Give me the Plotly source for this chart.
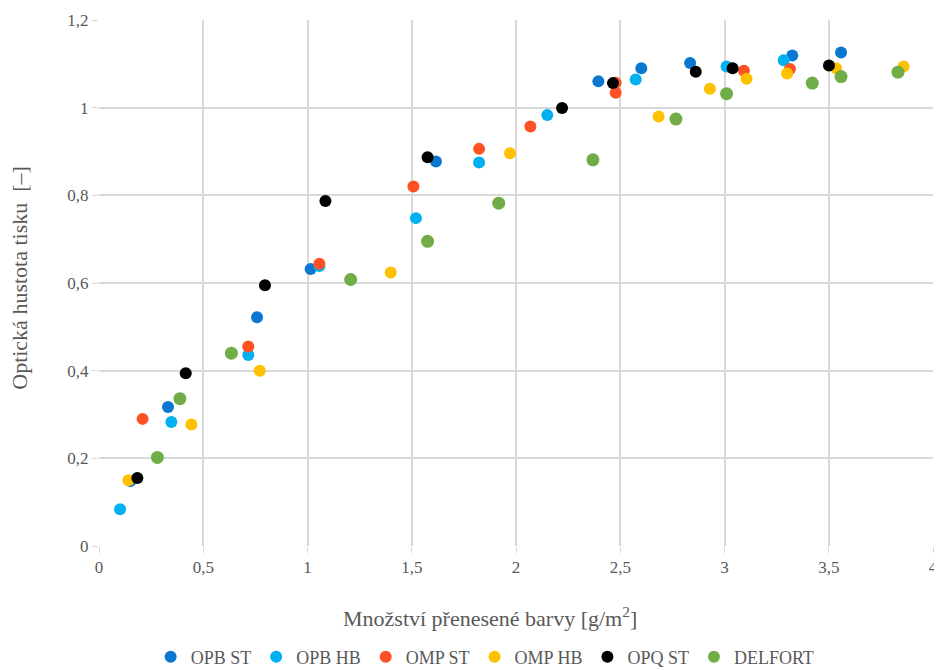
import plotly.graph_objects as go

names = ["OPB ST", "OPB HB", "OMP ST", "OMP HB", "OPQ ST", "DELFORT"]
colors = ["#0A78D2", "#00B0F0", "#FF5224", "#FFC000", "#000000", "#70AD47"]

opb_st_x = [0.15, 0.331, 0.758, 1.015, 1.616, 2.395, 2.601, 2.835, 3.325, 3.559]
opb_st_y = [0.148, 0.317, 0.522, 0.632, 0.877, 1.060, 1.090, 1.102, 1.119, 1.126]

opb_hb_x = [0.101, 0.347, 0.716, 1.057, 1.520, 1.823, 2.150, 2.574, 3.010, 3.284]
opb_hb_y = [0.084, 0.283, 0.436, 0.639, 0.748, 0.875, 0.983, 1.064, 1.094, 1.108]

omp_st_x = [0.209, 0.716, 1.057, 1.508, 1.823, 2.069, 2.478, 2.478, 3.093, 3.314]
omp_st_y = [0.290, 0.455, 0.644, 0.820, 0.906, 0.957, 1.034, 1.057, 1.084, 1.088]

omp_hb_x = [0.141, 0.443, 0.771, 1.399, 1.971, 2.684, 2.930, 3.106, 3.300, 3.535, 3.859]
omp_hb_y = [0.150, 0.277, 0.400, 0.624, 0.896, 0.980, 1.043, 1.066, 1.078, 1.090, 1.094]

opq_st_x = [0.184, 0.416, 0.796, 1.086, 1.576, 2.221, 2.465, 2.862, 3.039, 3.501]
opq_st_y = [0.155, 0.394, 0.595, 0.787, 0.887, 0.999, 1.056, 1.082, 1.090, 1.096]

delfort_x = [0.280, 0.388, 0.635, 1.207, 1.576, 1.917, 2.369, 2.767, 3.010, 3.421, 3.559, 3.832]
delfort_y = [0.202, 0.336, 0.440, 0.608, 0.695, 0.782, 0.881, 0.974, 1.032, 1.056, 1.071, 1.081]

x_title = "Množství přenesené barvy [g/m<sup>2</sup>]"
y_title = "Optická hustota tisku  [–]"

series = [
    (opb_st_x, opb_st_y),
    (opb_hb_x, opb_hb_y),
    (omp_st_x, omp_st_y),
    (omp_hb_x, omp_hb_y),
    (opq_st_x, opq_st_y),
    (delfort_x, delfort_y),
]
sizes = [12, 12, 12, 12, 12, 13]

font_family = "Times New Roman, Liberation Serif, serif"
txt = "#595959"

fig = go.Figure()
for name, color, (xs, ys), s in zip(names, colors, series, sizes):
    fig.add_trace(go.Scatter(
        x=xs, y=ys, mode="markers", name=name,
        marker=dict(color=color, size=s, line=dict(width=0)),
    ))

# page body has an 8 px default margin; the figure is sized/offset to compensate
fig.update_layout(
    width=934, height=662,
    margin=dict(l=91, r=9, t=12, b=124),
    plot_bgcolor="white", paper_bgcolor="white",
    separators=", ",
    font=dict(family=font_family, color=txt, size=17),
    showlegend=True,
    legend=dict(orientation="h", xref="paper", x=0.463, xanchor="center",
                yref="container", y=0.0196, yanchor="middle",
                font=dict(family=font_family, size=18, color=txt), itemsizing="constant",
                itemwidth=30, tracegroupgap=0),
    xaxis=dict(
        range=[0, 4], dtick=0.5, tick0=0, automargin=False,
        showgrid=True, gridcolor="#D9D9D9", gridwidth=1.5,
        zeroline=False, showline=False,
        ticks="outside", ticklen=6, tickcolor="#D9D9D9",
        tickfont=dict(family=font_family, size=17, color=txt),
    ),
    yaxis=dict(
        range=[0, 1.2], dtick=0.2, tick0=0, automargin=False,
        showgrid=True, gridcolor="#D9D9D9", gridwidth=1.5,
        zeroline=False, showline=False,
        ticks="outside", ticklen=6, tickcolor="#D9D9D9",
        tickfont=dict(family=font_family, size=17, color=txt),
    ),
    annotations=[
        dict(text=x_title, xref="paper", yref="paper", x=0.469, y=-0.135,
             xanchor="center", yanchor="middle", showarrow=False,
             font=dict(family=font_family, size=22, color=txt)),
        dict(text=y_title, xref="paper", yref="paper", x=-0.0947, y=0.51,
             xanchor="center", yanchor="middle", showarrow=False, textangle=-90,
             font=dict(family=font_family, size=22, color=txt)),
    ],
)

fig.write_html("out.html")
